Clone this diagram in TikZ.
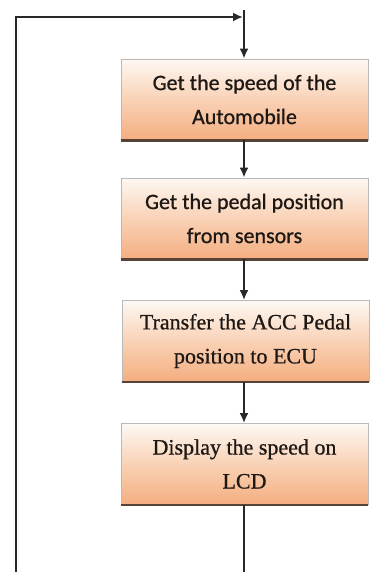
\documentclass[tikz,border=0pt]{standalone}
\usepackage{fontspec}
\setmainfont[FakeBold=0.8]{Liberation Serif}
\newfontfamily\calfont[FakeBold=0.8]{Carlito}
\usetikzlibrary{arrows.meta}

\definecolor{peach}{RGB}{244,174,128}
\definecolor{peachmid}{RGB}{249,210,182}
\definecolor{paleface}{RGB}{253,248,243}
\definecolor{edgebrown}{RGB}{86,66,54}
\definecolor{flowline}{RGB}{40,40,40}
\definecolor{inktext}{RGB}{30,24,20}

\newcommand\boxsize{\fontsize{22}{34}\selectfont}

\tikzset{
	stepbox/.style={draw=gray!55, line width=0.8pt,
		minimum width=247pt, minimum height=81pt, inner sep=0pt,
		top color=paleface, bottom color=peach, middle color=peachmid,
		align=center, text=inktext},
	sansbox/.style={stepbox, font=\calfont\boxsize},
	serifbox/.style={stepbox, font=\boxsize},
	boxedge/.style={draw=edgebrown, line width=2.4pt},
	flow/.style={draw=flowline, line width=2pt},
	arr/.style={flow, -{Latex[length=10pt,width=9pt]}},
}

\begin{document}
\begin{tikzpicture}[x=1pt,y=-1pt]
	\useasboundingbox (0,0) rectangle (373,572);

	\coordinate (top) at (244,10);
	\coordinate (joint) at (243,17);
	\coordinate (leftend) at (16,572);
	\coordinate (downend) at (244,572);

	\node[sansbox] (speed) at (244.5,99.5) {Get the speed of the\\Automobile};
	\node[sansbox] (pedal) at (244.5,218.5) {Get the pedal position\\from sensors};
	\node[serifbox] (ecu) at (245.5,341) {Transfer the ACC Pedal\\position to ECU};
	\node[serifbox] (lcd) at (244.5,464) {Display the speed on\\LCD};

	\draw[boxedge](speed.south west)--(speed.south east);
	\draw[boxedge](pedal.south west)--(pedal.south east);
	\draw[boxedge](ecu.south west)--(ecu.south east);
	\draw[boxedge](lcd.south west)--(lcd.south east);

	\draw[arr](top)--(speed.north -| top);
	\draw[arr](speed.south -| top)--(pedal.north -| top);
	\draw[arr](pedal.south -| top)--(ecu.north -| top);
	\draw[arr](ecu.south -| top)--(lcd.north -| top);

	\draw[flow](lcd.south -| top)--(downend);
	\draw[arr,line join=miter](leftend)|-(joint);

\end{tikzpicture}
\end{document}
